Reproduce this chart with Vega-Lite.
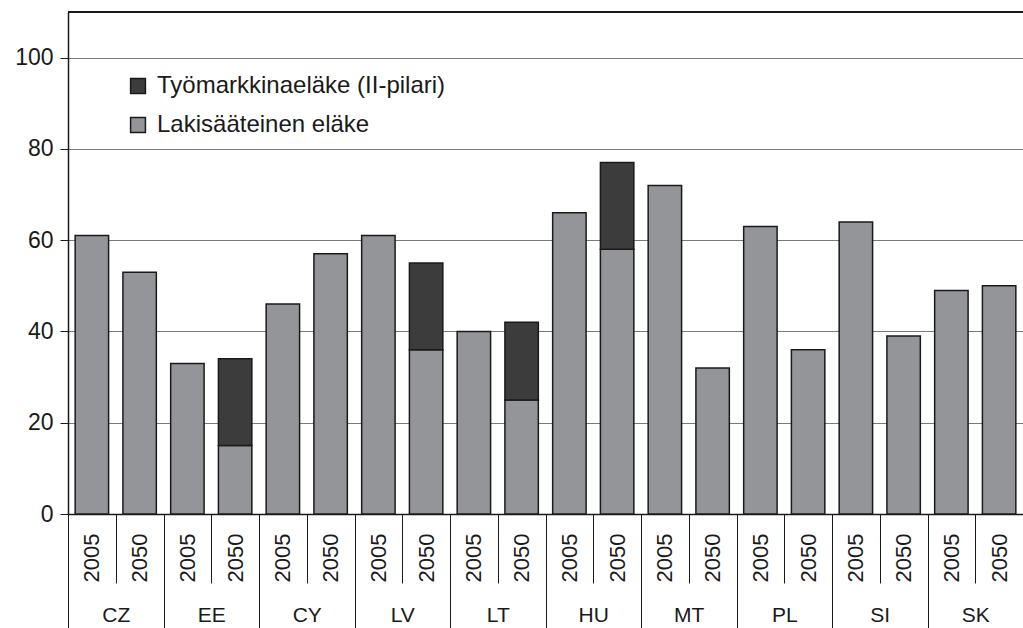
{
  "$schema": "https://vega.github.io/schema/vega-lite/v6.json",
  "width": 955,
  "height": 502,
  "padding": {"left": 68, "top": 12, "right": 0, "bottom": 114},
  "autosize": {"type": "none"},
  "config": {
    "font": "Liberation Sans",
    "view": {"stroke": null},
    "axis": {"labelFont": "Liberation Sans", "labelColor": "#1a1a1a", "labelFontSize": 23, "titleFontSize": 20}
  },
  "data": {
    "values": [
      {"key": "CZ 2005", "country": "CZ", "type": "Lakisääteinen eläke", "value": 61},
      {"key": "CZ 2050", "country": "CZ", "type": "Lakisääteinen eläke", "value": 53},
      {"key": "EE 2005", "country": "EE", "type": "Lakisääteinen eläke", "value": 33},
      {"key": "EE 2050", "country": "EE", "type": "Lakisääteinen eläke", "value": 15},
      {"key": "EE 2050", "country": "EE", "type": "Työmarkkinaeläke (II-pilari)", "value": 19},
      {"key": "CY 2005", "country": "CY", "type": "Lakisääteinen eläke", "value": 46},
      {"key": "CY 2050", "country": "CY", "type": "Lakisääteinen eläke", "value": 57},
      {"key": "LV 2005", "country": "LV", "type": "Lakisääteinen eläke", "value": 61},
      {"key": "LV 2050", "country": "LV", "type": "Lakisääteinen eläke", "value": 36},
      {"key": "LV 2050", "country": "LV", "type": "Työmarkkinaeläke (II-pilari)", "value": 19},
      {"key": "LT 2005", "country": "LT", "type": "Lakisääteinen eläke", "value": 40},
      {"key": "LT 2050", "country": "LT", "type": "Lakisääteinen eläke", "value": 25},
      {"key": "LT 2050", "country": "LT", "type": "Työmarkkinaeläke (II-pilari)", "value": 17},
      {"key": "HU 2005", "country": "HU", "type": "Lakisääteinen eläke", "value": 66},
      {"key": "HU 2050", "country": "HU", "type": "Lakisääteinen eläke", "value": 58},
      {"key": "HU 2050", "country": "HU", "type": "Työmarkkinaeläke (II-pilari)", "value": 19},
      {"key": "MT 2005", "country": "MT", "type": "Lakisääteinen eläke", "value": 72},
      {"key": "MT 2050", "country": "MT", "type": "Lakisääteinen eläke", "value": 32},
      {"key": "PL 2005", "country": "PL", "type": "Lakisääteinen eläke", "value": 63},
      {"key": "PL 2050", "country": "PL", "type": "Lakisääteinen eläke", "value": 36},
      {"key": "SI 2005", "country": "SI", "type": "Lakisääteinen eläke", "value": 64},
      {"key": "SI 2050", "country": "SI", "type": "Lakisääteinen eläke", "value": 39},
      {"key": "SK 2005", "country": "SK", "type": "Lakisääteinen eläke", "value": 49},
      {"key": "SK 2050", "country": "SK", "type": "Lakisääteinen eläke", "value": 50}
    ]
  },
  "layer": [
    {
      "mark": {"type": "bar", "width": {"band": 0.7}, "stroke": "#1a1a1a", "strokeWidth": 1.5},
      "encoding": {
        "x": {
          "field": "key", "type": "nominal", "sort": null,
          "scale": {"paddingInner": 0, "paddingOuter": 0},
          "axis": {
            "title": null, "orient": "bottom", "labelAngle": -90, "labelAlign": "right", "labelBaseline": "middle",
            "labelExpr": "split(datum.label, ' ')[1]", "labelFontSize": 22,
            "tickBand": "extent", "tickSize": 69, "tickColor": "#1a1a1a", "tickWidth": 1,
            "labelPadding": -50, "domainColor": "#1a1a1a", "domainWidth": 1.5
          }
        },
        "y": {
          "field": "value", "type": "quantitative", "stack": "zero",
          "scale": {"domain": [0, 110], "nice": false},
          "axis": {
            "title": null, "values": [0, 20, 40, 60, 80, 100], "grid": true, "gridColor": "#7a7a7a", "gridWidth": 1,
            "tickSize": 8, "tickColor": "#1a1a1a", "domainColor": "#1a1a1a", "domainWidth": 1.5, "labelPadding": 7
          }
        },
        "color": {
          "field": "type", "type": "nominal",
          "scale": {"domain": ["Työmarkkinaeläke (II-pilari)", "Lakisääteinen eläke"], "range": ["#3c3c3c", "#939598"]},
          "legend": {
            "title": null, "orient": "none", "legendX": 58, "legendY": 62,
            "symbolType": "square", "symbolSize": 220, "symbolStrokeColor": "#1a1a1a", "symbolStrokeWidth": 1.5,
            "symbolOpacity": 1, "labelFontSize": 24, "labelColor": "#1a1a1a", "labelFont": "Liberation Sans",
            "labelLimit": 0, "rowPadding": 15, "labelOffset": 7
          }
        },
        "order": {"field": "type", "sort": "ascending"}
      }
    },
    {
      "mark": {"type": "rule", "opacity": 0},
      "encoding": {
        "x": {
          "field": "country", "type": "nominal", "sort": null,
          "scale": {"paddingInner": 0, "paddingOuter": 0},
          "axis": {
            "title": null, "orient": "bottom", "labelAngle": 0, "labelBaseline": "top", "labelFontSize": 21,
            "tickBand": "extent", "tickSize": 116, "tickColor": "#1a1a1a", "tickWidth": 1,
            "labelPadding": -26, "domain": false
          }
        }
      }
    },
    {
      "mark": {"type": "rule", "color": "#1a1a1a", "strokeWidth": 1.5},
      "encoding": {"y": {"datum": 110}}
    }
  ],
  "resolve": {"scale": {"x": "independent"}, "axis": {"x": "independent"}}
}
